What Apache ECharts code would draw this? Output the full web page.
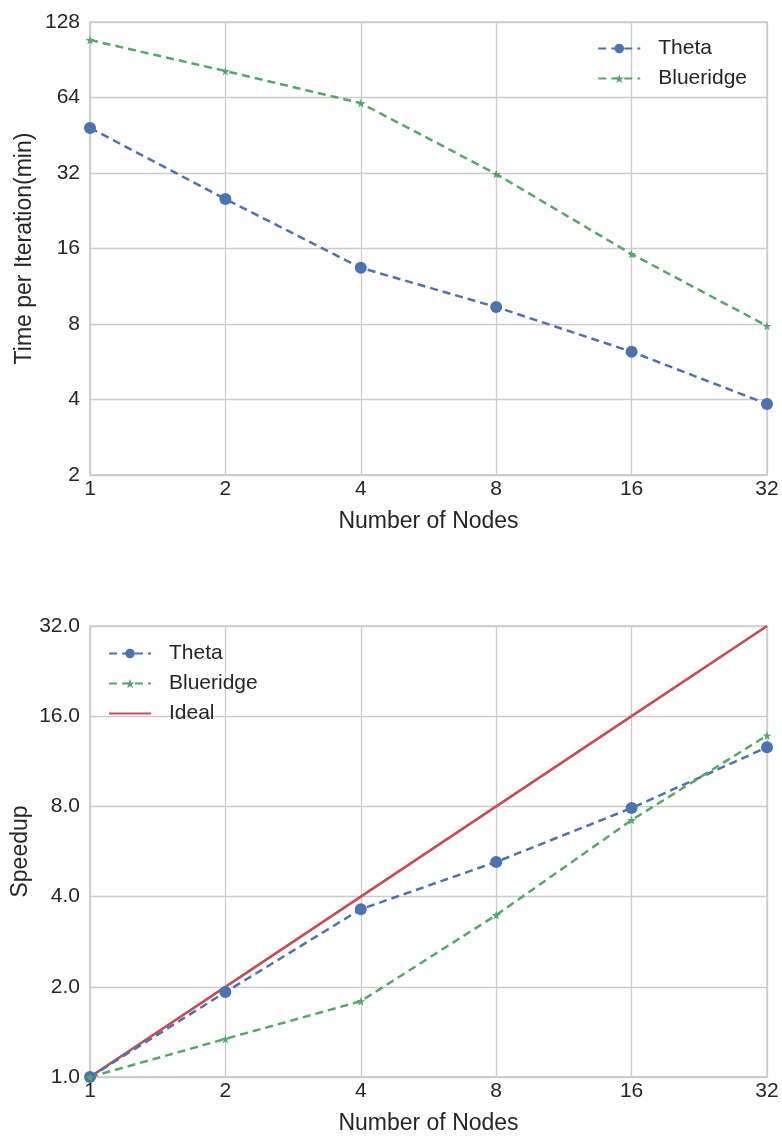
<!DOCTYPE html>
<html>
<head>
<meta charset="utf-8">
<script src="https://cdn.jsdelivr.net/npm/echarts@6/dist/echarts.min.js"></script>
<style>
html, body { margin: 0; padding: 0; background: #fff; }
#chart { width: 782px; height: 1138px; }
</style>
</head>
<body>
<div id="chart"></div>
<script>
// node counts
var nodes = [1, 2, 4, 8, 16, 32];
// time per iteration (min)
var thetaTime = [48.4, 25.2, 13.4, 9.35, 6.2, 3.84];
var blueTime = [108.5, 81.6, 60.8, 31.7, 15.2, 7.86];
// speedup
var thetaSpeed = [1, 1.92, 3.63, 5.22, 7.9, 12.6];
var blueSpeed = [1, 1.34, 1.79, 3.47, 7.2, 13.8];
var idealSpeed = [1, 2, 4, 8, 16, 32];

var blue = '#4c72b0', green = '#55a868', red = '#c44e52';
var gridCol = '#cccccc';
var fontFam = 'Liberation Sans, Arial, sans-serif';
var star = 'path://M50,0 L61,35 L98,35 L68,57 L79,91 L50,70 L21,91 L32,57 L2,35 L39,35 Z';

function pairs(ys) {
	return nodes.map(function(n, i) { return [n, ys[i]]; });
}

function xAxis(idx) {
	return {
		type: 'log', logBase: 2, gridIndex: idx, min: 1, max: 32,
		name: 'Number of Nodes', nameLocation: 'middle', nameGap: 35, nameMoveOverlap: false,
		nameTextStyle: { color: '#262626', fontSize: 23, fontFamily: fontFam },
		axisLine: { show: true, lineStyle: { color: gridCol, width: 1.5 } },
		axisTick: { show: false },
		axisLabel: { color: '#262626', fontSize: 21, fontFamily: fontFam, margin: 4 },
		splitLine: { show: true, lineStyle: { color: gridCol, width: 1.3 } },
		minorSplitLine: { show: false }
	};
}

function yAxis(idx, min, max, name, gap, fmt) {
	return {
		type: 'log', logBase: 2, gridIndex: idx, min: min, max: max,
		name: name, nameLocation: 'middle', nameGap: gap, nameMoveOverlap: false,
		nameTextStyle: { color: '#262626', fontSize: 23, fontFamily: fontFam },
		axisLine: { show: true, lineStyle: { color: gridCol, width: 1.5 } },
		axisTick: { show: false },
		axisLabel: { color: '#262626', fontSize: 21, fontFamily: fontFam, margin: 10, formatter: fmt },
		splitLine: { show: true, lineStyle: { color: gridCol, width: 1.3 } }
	};
}

var legendText = { color: '#262626', fontSize: 21, fontFamily: fontFam, padding: [0, 0, 0, 13] };

var chart = echarts.init(document.getElementById('chart'));
chart.setOption({
	animation: false,
	backgroundColor: '#fff',
	grid: [
		{ left: 90, right: 15, top: 22, height: 453, show: true, borderColor: gridCol, borderWidth: 1.5, outerBoundsMode: 'none' },
		{ left: 90, right: 15, top: 626, height: 451, show: true, borderColor: gridCol, borderWidth: 1.5, outerBoundsMode: 'none' }
	],
	legend: [{
		top: 33, right: 30, orient: 'vertical', itemGap: 9, itemWidth: 42, itemHeight: 12,
		textStyle: legendText,
		data: ['Theta', 'Blueridge']
	}, {
		top: 638, left: 103, orient: 'vertical', itemGap: 9, itemWidth: 42, itemHeight: 12,
		textStyle: legendText,
		data: ['Theta ', 'Blueridge ', { name: 'Ideal', itemStyle: { opacity: 0 } }]
	}],
	xAxis: [xAxis(0), xAxis(1)],
	yAxis: [
		yAxis(0, 2, 128, 'Time per Iteration(min)', 54),
		yAxis(1, 1, 32, 'Speedup', 58, function(v) { return v.toFixed(1); })
	],
	series: [{
		name: 'Theta', type: 'line', xAxisIndex: 0, yAxisIndex: 0,
		data: pairs(thetaTime), symbol: 'circle', symbolSize: 12,
		lineStyle: { color: blue, width: 2.5, type: [8, 5] }, itemStyle: { color: blue }
	}, {
		name: 'Blueridge', type: 'line', xAxisIndex: 0, yAxisIndex: 0,
		data: pairs(blueTime), symbol: star, symbolSize: 9,
		lineStyle: { color: green, width: 2.5, type: [8, 5] }, itemStyle: { color: green }
	}, {
		name: 'Ideal', type: 'line', xAxisIndex: 1, yAxisIndex: 1,
		data: pairs(idealSpeed), symbol: 'none', z: 1,
		lineStyle: { color: red, width: 2.6 }, itemStyle: { color: red }
	}, {
		name: 'Theta ', type: 'line', xAxisIndex: 1, yAxisIndex: 1,
		data: pairs(thetaSpeed), symbol: 'circle', symbolSize: 12,
		lineStyle: { color: blue, width: 2.5, type: [8, 5] }, itemStyle: { color: blue }
	}, {
		name: 'Blueridge ', type: 'line', xAxisIndex: 1, yAxisIndex: 1,
		data: pairs(blueSpeed), symbol: star, symbolSize: 9,
		lineStyle: { color: green, width: 2.5, type: [8, 5] }, itemStyle: { color: green }
	}]
});
</script>
</body>
</html>
